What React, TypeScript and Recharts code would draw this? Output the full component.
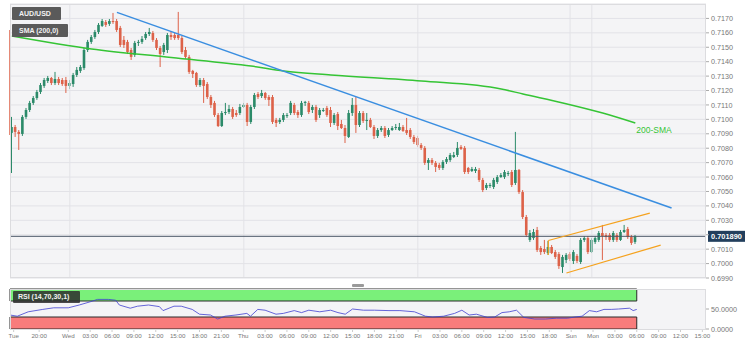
import React from 'react';
import {
  ComposedChart, LineChart, Bar, Line, XAxis, YAxis, CartesianGrid,
  ReferenceLine, ReferenceArea, ReferenceDot,
} from 'recharts';

// AUD/USD 30-minute candles (k = slot index)
const OPEN = [
  0.70906, 0.70947, 0.70913, 0.70899, 0.71017, 0.71065, 0.71114, 0.71148, 0.71190, 0.71232,
  0.71266, 0.71287, 0.71252, 0.71280, 0.71273, 0.71273, 0.71232, 0.71245, 0.71308, 0.71336,
  0.71356, 0.71481, 0.71537, 0.71571, 0.71606, 0.71648, 0.71675, 0.71662, 0.71682, 0.71682,
  0.71634, 0.71551, 0.71537, 0.71481, 0.71447, 0.71530, 0.71537, 0.71564, 0.71592, 0.71599,
  0.71551, 0.71495, 0.71467, 0.71481, 0.71585, 0.71585, 0.71585, 0.71564, 0.71481, 0.71433,
  0.71336, 0.71322, 0.71238, 0.71273, 0.71245, 0.71155, 0.71114, 0.71030, 0.70954, 0.71044,
  0.71051, 0.71072, 0.71044, 0.71044, 0.71086, 0.71100, 0.70982, 0.71086, 0.71176, 0.71162,
  0.71183, 0.71155, 0.71155, 0.70996, 0.70982, 0.70996, 0.71024, 0.71044, 0.71100, 0.71051,
  0.71030, 0.71114, 0.71114, 0.71065, 0.71086, 0.71030, 0.71058, 0.71079, 0.71065, 0.70975,
  0.71037, 0.70968, 0.70940, 0.70878, 0.71044, 0.71100, 0.70961, 0.71044, 0.70989, 0.70996,
  0.70947, 0.70885, 0.70926, 0.70940, 0.70892, 0.70926, 0.70940, 0.70926, 0.70947, 0.70926,
  0.70926, 0.70878, 0.70871, 0.70822, 0.70802, 0.70698, 0.70718, 0.70698, 0.70684, 0.70663,
  0.70705, 0.70718, 0.70739, 0.70753, 0.70809, 0.70802, 0.70663, 0.70642, 0.70642, 0.70649,
  0.70580, 0.70524, 0.70538, 0.70531, 0.70566, 0.70600, 0.70600, 0.70621, 0.70635, 0.70559,
  0.70649, 0.70496, 0.70323, 0.70164, 0.70177, 0.70233, 0.70108, 0.70101, 0.70073, 0.70115,
  0.70080, 0.70066, 0.69976, 0.70025, 0.70066, 0.70018, 0.70053, 0.70011, 0.70164, 0.70177,
  0.70080, 0.70150, 0.70164, 0.70212, 0.70198, 0.70198, 0.70164, 0.70198, 0.70164, 0.70219,
  0.70240, 0.70184, 0.70150,
];
const HIGH = [
  0.71017, 0.70961, 0.70926, 0.71030, 0.71079, 0.71128, 0.71162, 0.71204, 0.71252, 0.71287,
  0.71301, 0.71294, 0.71329, 0.71294, 0.71287, 0.71294, 0.71273, 0.71322, 0.71363, 0.71377,
  0.71495, 0.71551, 0.71585, 0.71620, 0.71668, 0.71696, 0.71689, 0.71696, 0.71738, 0.71696,
  0.71648, 0.71578, 0.71551, 0.71495, 0.71544, 0.71551, 0.71578, 0.71606, 0.71634, 0.71613,
  0.71564, 0.71509, 0.71530, 0.71599, 0.71606, 0.71599, 0.71745, 0.71578, 0.71502, 0.71447,
  0.71343, 0.71329, 0.71287, 0.71287, 0.71259, 0.71169, 0.71128, 0.71044, 0.71058, 0.71114,
  0.71100, 0.71086, 0.71065, 0.71107, 0.71114, 0.71114, 0.71100, 0.71183, 0.71190, 0.71204,
  0.71190, 0.71169, 0.71169, 0.71010, 0.71010, 0.71044, 0.71044, 0.71128, 0.71114, 0.71065,
  0.71128, 0.71128, 0.71128, 0.71100, 0.71100, 0.71079, 0.71079, 0.71093, 0.71086, 0.71044,
  0.71051, 0.70996, 0.70961, 0.71065, 0.71148, 0.71155, 0.71058, 0.71058, 0.71044, 0.71010,
  0.70961, 0.70940, 0.70954, 0.70954, 0.70940, 0.70954, 0.70968, 0.70975, 0.70961, 0.71010,
  0.70940, 0.70892, 0.70885, 0.70836, 0.70815, 0.70732, 0.70732, 0.70711, 0.70698, 0.70718,
  0.70739, 0.70767, 0.70774, 0.70843, 0.70822, 0.70815, 0.70670, 0.70670, 0.70670, 0.70663,
  0.70594, 0.70559, 0.70559, 0.70594, 0.70614, 0.70628, 0.70649, 0.70642, 0.70649, 0.70913,
  0.70656, 0.70510, 0.70337, 0.70233, 0.70240, 0.70254, 0.70122, 0.70164, 0.70157, 0.70129,
  0.70094, 0.70080, 0.70060, 0.70073, 0.70080, 0.70094, 0.70066, 0.70177, 0.70191, 0.70191,
  0.70177, 0.70191, 0.70226, 0.70268, 0.70212, 0.70212, 0.70226, 0.70212, 0.70233, 0.70268,
  0.70254, 0.70198, 0.70198,
];
const LOW = [
  0.70628, 0.70878, 0.70788, 0.70885, 0.71003, 0.71051, 0.71100, 0.71135, 0.71176, 0.71218,
  0.71252, 0.71238, 0.71238, 0.71238, 0.71232, 0.71183, 0.71211, 0.71225, 0.71294, 0.71322,
  0.71343, 0.71467, 0.71523, 0.71558, 0.71592, 0.71641, 0.71641, 0.71648, 0.71662, 0.71606,
  0.71502, 0.71495, 0.71453, 0.71412, 0.71433, 0.71509, 0.71523, 0.71551, 0.71578, 0.71537,
  0.71481, 0.71363, 0.71447, 0.71460, 0.71551, 0.71551, 0.71551, 0.71453, 0.71419, 0.71315,
  0.71287, 0.71225, 0.71225, 0.71114, 0.71141, 0.71079, 0.71017, 0.70947, 0.70947, 0.71030,
  0.71037, 0.71003, 0.71017, 0.71030, 0.71079, 0.70954, 0.70968, 0.71072, 0.71141, 0.71148,
  0.71135, 0.71093, 0.70968, 0.70947, 0.70968, 0.70982, 0.71010, 0.71030, 0.71030, 0.71010,
  0.71017, 0.71093, 0.71037, 0.71044, 0.70982, 0.71010, 0.71051, 0.71017, 0.70947, 0.70961,
  0.70926, 0.70933, 0.70836, 0.70871, 0.71024, 0.70906, 0.70947, 0.70975, 0.70926, 0.70940,
  0.70864, 0.70871, 0.70913, 0.70871, 0.70878, 0.70920, 0.70926, 0.70920, 0.70913, 0.70892,
  0.70864, 0.70829, 0.70809, 0.70788, 0.70684, 0.70649, 0.70684, 0.70635, 0.70649, 0.70649,
  0.70691, 0.70705, 0.70732, 0.70739, 0.70788, 0.70621, 0.70621, 0.70635, 0.70628, 0.70566,
  0.70496, 0.70510, 0.70524, 0.70517, 0.70552, 0.70594, 0.70587, 0.70607, 0.70531, 0.70545,
  0.70483, 0.70309, 0.70184, 0.70150, 0.70164, 0.70080, 0.70060, 0.70066, 0.70060, 0.70066,
  0.70032, 0.69963, 0.69935, 0.70004, 0.70018, 0.69997, 0.70004, 0.69997, 0.70150, 0.70066,
  0.70073, 0.70136, 0.70150, 0.70025, 0.70164, 0.70150, 0.70150, 0.70150, 0.70157, 0.70212,
  0.70171, 0.70129, 0.70136,
];
const CLOSE = [
  0.70947, 0.70913, 0.70899, 0.71017, 0.71065, 0.71114, 0.71148, 0.71190, 0.71238, 0.71273,
  0.71287, 0.71252, 0.71280, 0.71252, 0.71245, 0.71232, 0.71252, 0.71308, 0.71343, 0.71363,
  0.71481, 0.71537, 0.71571, 0.71606, 0.71655, 0.71682, 0.71655, 0.71682, 0.71675, 0.71620,
  0.71516, 0.71516, 0.71467, 0.71433, 0.71530, 0.71537, 0.71558, 0.71592, 0.71606, 0.71551,
  0.71495, 0.71453, 0.71516, 0.71585, 0.71571, 0.71564, 0.71564, 0.71467, 0.71433, 0.71329,
  0.71315, 0.71238, 0.71273, 0.71232, 0.71155, 0.71100, 0.71030, 0.70954, 0.71044, 0.71051,
  0.71072, 0.71017, 0.71030, 0.71086, 0.71100, 0.70982, 0.71086, 0.71169, 0.71155, 0.71183,
  0.71148, 0.71135, 0.70982, 0.70975, 0.70996, 0.71030, 0.71030, 0.71114, 0.71044, 0.71030,
  0.71114, 0.71121, 0.71051, 0.71086, 0.70996, 0.71065, 0.71065, 0.71030, 0.70975, 0.71030,
  0.70954, 0.70940, 0.70885, 0.71044, 0.71100, 0.70961, 0.71044, 0.70989, 0.70996, 0.70947,
  0.70885, 0.70926, 0.70940, 0.70885, 0.70926, 0.70940, 0.70947, 0.70947, 0.70920, 0.70906,
  0.70878, 0.70843, 0.70822, 0.70802, 0.70698, 0.70718, 0.70698, 0.70670, 0.70663, 0.70705,
  0.70725, 0.70753, 0.70753, 0.70802, 0.70795, 0.70635, 0.70635, 0.70656, 0.70656, 0.70580,
  0.70510, 0.70545, 0.70545, 0.70580, 0.70600, 0.70614, 0.70635, 0.70628, 0.70545, 0.70649,
  0.70496, 0.70323, 0.70198, 0.70212, 0.70219, 0.70094, 0.70080, 0.70080, 0.70115, 0.70073,
  0.70046, 0.69983, 0.70046, 0.70060, 0.70032, 0.70080, 0.70018, 0.70164, 0.70177, 0.70080,
  0.70164, 0.70177, 0.70212, 0.70191, 0.70184, 0.70164, 0.70212, 0.70164, 0.70219, 0.70233,
  0.70184, 0.70143, 0.70189,
];

const SLOTS = 192;
const LAST_PRICE = 0.70189;
const EDGE_BAR = [0.71620, 0.70892]; // clipped bar at the left edge

// [slot, price]
const SMA_200: [number, number][] = [
  [0, 0.71578], [22, 0.71488], [44, 0.71429], [66, 0.71370], [75, 0.71336], [88, 0.71308],
  [113, 0.71266], [135, 0.71211], [141, 0.71176], [152, 0.71114], [163, 0.71044], [172, 0.70975],
];
const TREND_DOWN: [number, number][] = [[29, 0.71742], [182, 0.70385]];
const CHANNEL_TOP: [number, number][] = [[148, 0.70160], [176, 0.70350]];
const CHANNEL_BOTTOM: [number, number][] = [[153, 0.69935], [179, 0.70128]];
const CHANNEL_START = [0.70160, 0.70060];

// [slot, rsi]
const RSI: [number, number][] = [
  [0, 35], [2, 32], [5, 43], [9, 49], [12, 53], [16, 53], [19, 60], [22, 68], [24, 74], [27, 74],
  [29, 72], [30, 60], [33, 52], [35, 57], [38, 60], [41, 56], [42, 46], [45, 57], [47, 57], [50, 49],
  [52, 37], [55, 35], [57, 25], [59, 32], [62, 35], [65, 39], [66, 32], [68, 49], [70, 47], [73, 37],
  [75, 39], [78, 46], [80, 41], [82, 47], [85, 43], [88, 47], [90, 41], [92, 37], [94, 50], [97, 47],
  [100, 47], [104, 46], [107, 46], [111, 43], [114, 32], [116, 30], [119, 32], [122, 39], [124, 47],
  [126, 35], [128, 37], [131, 29], [133, 30], [135, 41], [137, 43], [139, 47], [141, 29], [144, 25],
  [147, 25], [150, 27], [153, 27], [155, 30], [157, 32], [159, 46], [161, 43], [163, 49], [165, 49],
  [167, 50], [170, 52], [171, 46], [172, 49],
];

const PRICE_TICKS = [
  0.699, 0.700, 0.701, 0.702, 0.703, 0.704, 0.705, 0.706, 0.707, 0.708,
  0.709, 0.710, 0.711, 0.712, 0.713, 0.714, 0.715, 0.716, 0.717,
];
const DAY_BREAKS = [16, 64, 112, 154, 160];
const TIME_TICKS = [
  1, 8, 16, 22, 28, 34, 40, 46, 52, 58, 64, 70, 76, 82, 88, 94, 100, 106,
  112, 118, 124, 130, 136, 142, 148, 154, 160, 166, 172, 178, 184, 190,
];
const TIME_LABELS = [
  'Tue', '20:00', 'Wed', '03:00', '06:00', '09:00', '12:00', '15:00', '18:00', '21:00',
  'Thu', '03:00', '06:00', '09:00', '12:00', '15:00', '18:00', '21:00',
  'Fri', '03:00', '06:00', '09:00', '12:00', '15:00', '18:00', 'Sun',
  'Mon', '03:00', '06:00', '09:00', '12:00', '15:00',
];

const UP = '#2b8a69';
const DOWN = '#dd6249';
const FONT = '"Liberation Sans", Arial, sans-serif';

const toMap = (pts: [number, number][]) => new Map(pts.map(([k, v]) => [k, v]));
const smaMap = toMap(SMA_200);
const trendMap = toMap(TREND_DOWN);
const topMap = toMap(CHANNEL_TOP);
const botMap = toMap(CHANNEL_BOTTOM);
const rsiMap = toMap(RSI);
const LAST_K = OPEN.length - 1;

const rows = Array.from({ length: SLOTS }, (_, k) => {
  const has = k < OPEN.length;
  return {
    k,
    range: has ? [LOW[k], HIGH[k]] : null,
    o: has ? OPEN[k] : null,
    h: has ? HIGH[k] : null,
    l: has ? LOW[k] : null,
    c: has ? CLOSE[k] : null,
    sma: smaMap.get(k) ?? null,
    trend: trendMap.get(k) ?? null,
    chTop: topMap.get(k) ?? null,
    chBot: botMap.get(k) ?? null,
    rsi: rsiMap.get(k) ?? null,
  };
});

const timeLabel = (k: number) => {
  const i = TIME_TICKS.indexOf(k);
  return i >= 0 ? TIME_LABELS[i] : '';
};

// the price tag sits over the tick closest to the last price
const priceLabel = (v: number) => (Math.abs(v - LAST_PRICE) < 0.0004 ? '' : v.toFixed(4));

const Candle = (props: any) => {
  const { x, y, width, height, payload } = props;
  if (!payload || payload.h == null || height == null || isNaN(height)) return null;
  const top = Math.min(y, y + height);
  const span = Math.abs(height);
  const py = (v: number) => top + ((payload.h - v) / (payload.h - payload.l)) * span;
  const color = payload.c >= payload.o ? UP : DOWN;
  const cx = x + width / 2;
  const bt = py(Math.max(payload.o, payload.c));
  const bb = py(Math.min(payload.o, payload.c));
  return (
    <g>
      <line x1={cx} x2={cx} y1={top} y2={top + span} stroke={color} strokeWidth={1} />
      <rect x={cx - 1.3} y={bt} width={2.6} height={Math.max(1, bb - bt)} fill={color} />
    </g>
  );
};

const PriceTag = (props: any) => {
  const vb = props.viewBox || {};
  const x = vb.x + vb.width;
  const y = vb.y;
  return (
    <g>
      <rect x={x + 2} y={y - 5.5} width={37} height={11} fill="#233f5d" />
      <text x={x + 20.5} y={y + 2.6} textAnchor="middle" fontSize={7.4} fontWeight="bold" fill="#fff">
        {LAST_PRICE.toFixed(6)}
      </text>
    </g>
  );
};

const SmaTag = (props: any) => {
  const vb = props.viewBox || {};
  return (
    <text x={vb.x + 2} y={vb.y + 11} fontSize={8.5} fill="#35c435">200-SMA</text>
  );
};

const tag: React.CSSProperties = {
  position: 'absolute', background: '#5a5a5a', color: '#f2f2f2', fontSize: 7,
  fontWeight: 'bold', borderRadius: 1, paddingLeft: 7, boxSizing: 'border-box',
};

export default function App() {
  return (
    <div style={{ position: 'absolute', left: 0, top: 0, width: 748, height: 355, background: '#fff', fontFamily: FONT }}>
      <div style={{ position: 'absolute', left: 0, top: 0 }}>
        <ComposedChart width={748} height={282} data={rows} margin={{ top: 4, right: 0, bottom: 4, left: 10 }}>
          <CartesianGrid vertical={false} stroke="#e2e2e7" fill="#f4f4f6" />
          <XAxis dataKey="k" type="category" hide />
          <YAxis
            orientation="right" width={42} domain={[0.699, 0.718]} ticks={PRICE_TICKS} interval={0}
            allowDataOverflow tickFormatter={priceLabel} axisLine={false}
            tickSize={3} tickLine={{ stroke: '#aaa' }} tick={{ fontSize: 7.2, fill: '#777' }} tickMargin={2}
          />
          {DAY_BREAKS.map((k) => (
            <ReferenceLine key={k} x={k} stroke="#e2e2e7" />
          ))}
          <ReferenceLine
            segment={[{ x: 0, y: EDGE_BAR[0] }, { x: 0, y: EDGE_BAR[1] }]}
            stroke={DOWN} strokeWidth={1.5} position="start"
          />
          <ReferenceLine y={LAST_PRICE} stroke="#4b5866" strokeWidth={1} label={<PriceTag />} />
          <Bar dataKey="range" barSize={3} shape={(p: any) => <Candle {...p} />} isAnimationActive={false} />
          <Line dataKey="sma" type="monotone" stroke="#35c435" strokeWidth={1.5} dot={false} activeDot={false} connectNulls isAnimationActive={false} />
          <Line dataKey="trend" type="linear" stroke="#3a8ee0" strokeWidth={1.5} dot={false} activeDot={false} connectNulls isAnimationActive={false} />
          <Line dataKey="chTop" type="linear" stroke="#f5a21e" strokeWidth={1.2} dot={false} activeDot={false} connectNulls isAnimationActive={false} />
          <Line dataKey="chBot" type="linear" stroke="#f5a21e" strokeWidth={1.2} dot={false} activeDot={false} connectNulls isAnimationActive={false} />
          <ReferenceLine
            segment={[{ x: CHANNEL_TOP[0][0], y: CHANNEL_START[0] }, { x: CHANNEL_TOP[0][0], y: CHANNEL_START[1] }]}
            stroke="#f5a21e" strokeWidth={1.2}
          />
          <ReferenceDot
            x={SMA_200[SMA_200.length - 1][0]} y={SMA_200[SMA_200.length - 1][1]} r={1}
            fill="none" stroke="none" label={<SmaTag />}
          />
        </ComposedChart>
      </div>
      <div style={{ position: 'absolute', left: 10, top: 4, width: 696, height: 274, border: '1px solid #dcdcdf', boxSizing: 'border-box', pointerEvents: 'none' }} />
      <div style={{ ...tag, left: 12, top: 7, width: 49, height: 13, lineHeight: '13px' }}>AUD/USD</div>
      <div style={{ ...tag, left: 12, top: 24, width: 56, height: 13, lineHeight: '13px' }}>SMA (200,0)</div>

      <div style={{ position: 'absolute', left: 352, top: 284, width: 12, height: 3, background: '#9a9a9a', borderRadius: 1 }} />

      <div style={{ position: 'absolute', left: 0, top: 284 }}>
        <LineChart width={748} height={66} data={rows} margin={{ top: 5, right: 0, bottom: 0, left: 10 }}>
          <CartesianGrid horizontal={false} vertical={false} fill="#f4f4f6" />
          <XAxis
            dataKey="k" type="category" ticks={TIME_TICKS} interval={0} tickFormatter={timeLabel}
            height={21} axisLine={false} tickSize={3} tickLine={{ stroke: '#ccc' }}
            tick={{ fontSize: 6.2, fill: '#777' }}
          />
          <YAxis
            orientation="right" width={42} domain={[0, 100]} ticks={[0, 50]} interval={0}
            tickFormatter={(v: number) => v.toFixed(4)} axisLine={false} tickSize={3}
            tickLine={{ stroke: '#aaa' }} tick={{ fontSize: 7.2, fill: '#777' }} tickMargin={2}
          />
          <ReferenceArea x1={0} x2={LAST_K} y1={70} y2={100} fill="#7af07a" fillOpacity={1} stroke="#2a2a2a" strokeWidth={1} />
          <ReferenceArea x1={0} x2={LAST_K} y1={0} y2={30} fill="#f87c7c" fillOpacity={1} stroke="#2a2a2a" strokeWidth={1} />
          <Line dataKey="rsi" type="linear" stroke="#3f3fd0" strokeWidth={0.8} dot={false} activeDot={false} connectNulls isAnimationActive={false} />
        </LineChart>
      </div>
      <div style={{ position: 'absolute', left: 10, top: 289, width: 696, height: 41, border: '1px solid #dcdcdf', boxSizing: 'border-box', pointerEvents: 'none' }} />
      <div style={{ ...tag, left: 13, top: 291, width: 67, height: 12, lineHeight: '12px', paddingLeft: 5, background: 'rgba(45,45,45,0.85)' }}>
        RSI (14,70,30,1)
      </div>
    </div>
  );
}
